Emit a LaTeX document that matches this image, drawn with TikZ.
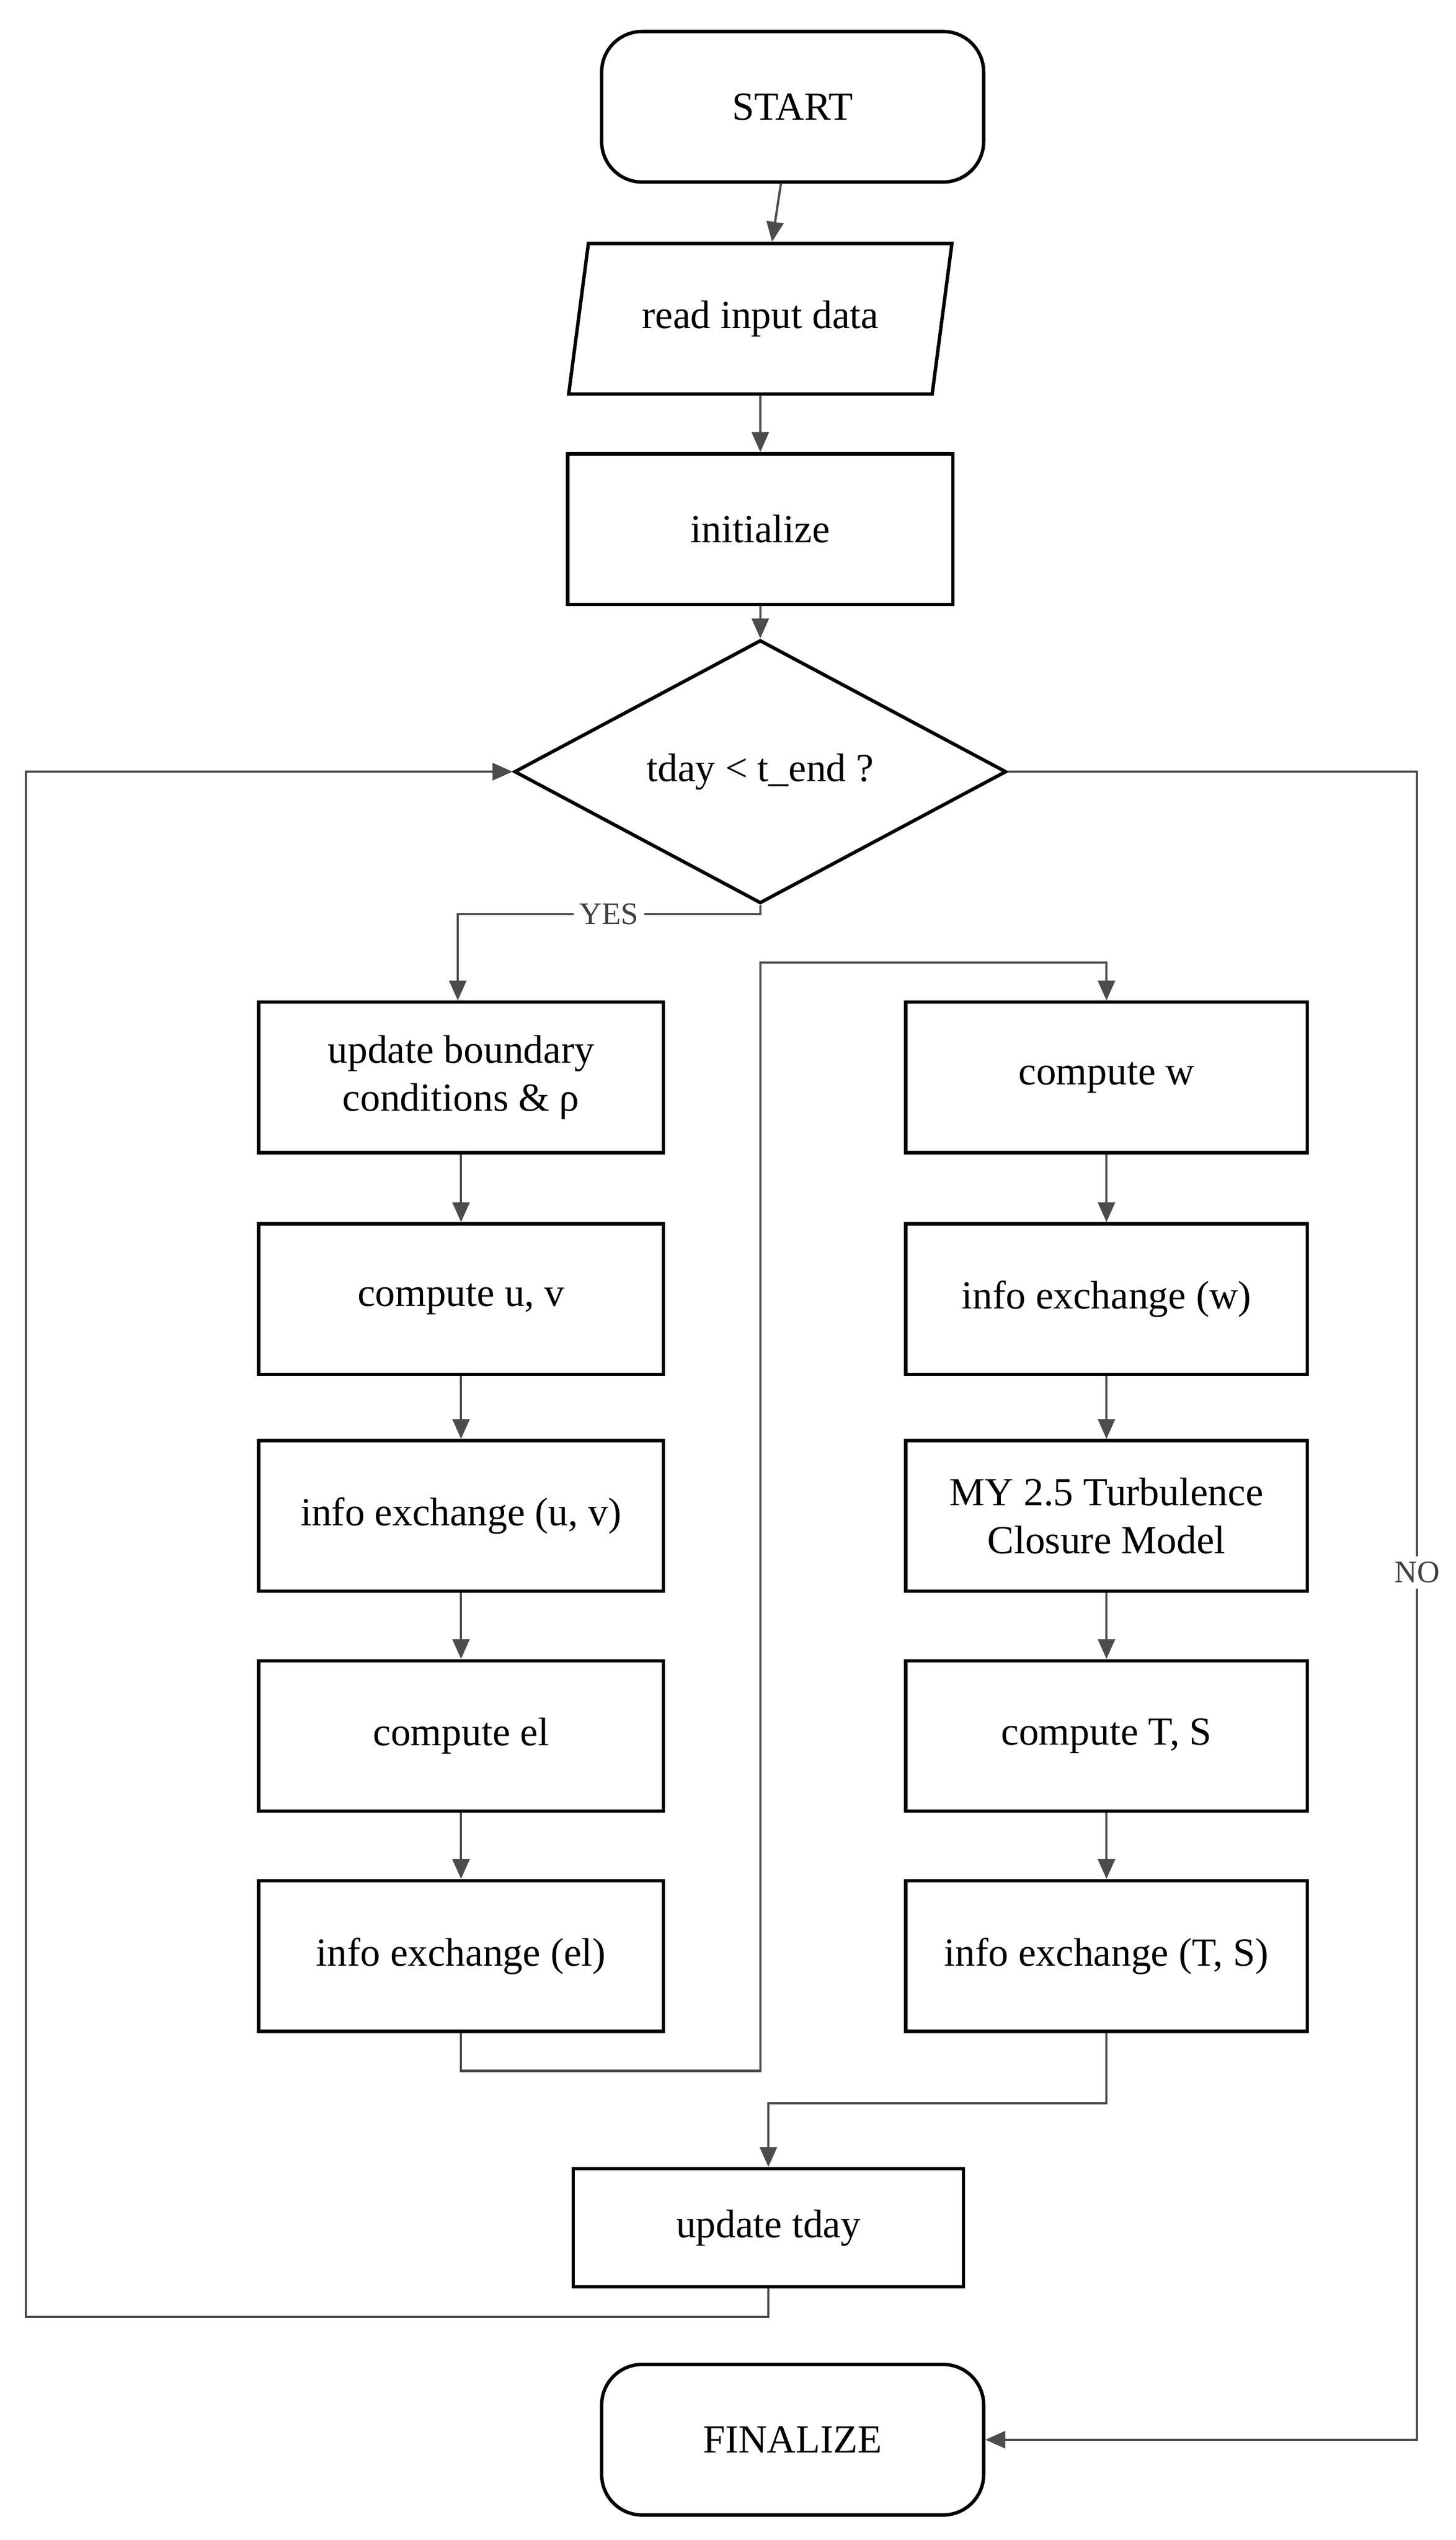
\documentclass[tikz,border=0pt]{standalone}
\usepackage{fontspec}
\setmainfont{Liberation Serif}
\usetikzlibrary{shapes.geometric,arrows.meta}
\begin{document}
\begin{tikzpicture}[x=0.01cm,y=-0.01cm,
    font=\fontsize{7}{8.5}\selectfont,
    box/.style={draw, line width=0.6pt, minimum width=2.5cm, minimum height=0.93cm, align=center, inner sep=1pt},
    term/.style={box, rounded corners=0.25cm, minimum width=2.36cm},
    io/.style={draw, line width=0.6pt, trapezium, trapezium left angle=78, trapezium right angle=102,
      trapezium stretches=true, minimum width=2.38cm, minimum height=0.93cm},
    dec/.style={draw, line width=0.6pt, diamond, minimum width=3.04cm, minimum height=1.27cm, inner sep=0pt},
    flow/.style={draw=black!70, line width=0.4pt, -{Triangle[length=3.5pt,width=3pt]}},
    lbl/.style={fill=white, inner sep=1pt, font=\fontsize{5.5}{6}\selectfont, text=black!75}]
  \useasboundingbox (0,0) rectangle (900,1570);

  % --- main chain ---
  \node[term] (start) at (490,66) {START};
  \node[io] (read) at (470,197) {read input data};
  \node[box, minimum width=2.38cm] (init) at (470,327) {initialize};
  \node[dec] (test) at (470,477) {tday < t\_end ?};

  % --- left column ---
  \node[box] (bc) at (285,666) {update boundary\\conditions \& ρ};
  \node[box] (uv) at (285,803) {compute u, v};
  \node[box] (xuv) at (285,937) {info exchange (u, v)};
  \node[box] (el) at (285,1073) {compute el};
  \node[box] (xel) at (285,1209) {info exchange (el)};

  % --- right column ---
  \node[box, minimum width=2.48cm] (w) at (684,666) {compute w};
  \node[box, minimum width=2.48cm] (xw) at (684,803) {info exchange (w)};
  \node[box, minimum width=2.48cm] (my) at (684,937) {MY 2.5 Turbulence\\Closure Model};
  \node[box, minimum width=2.48cm] (ts) at (684,1073) {compute T, S};
  \node[box, minimum width=2.48cm] (xts) at (684,1209) {info exchange (T, S)};

  \node[box, minimum width=2.41cm, minimum height=0.73cm] (upd) at (475,1377) {update tday};
  \node[term] (fin) at (490,1508) {FINALIZE};

  % --- connectors ---
  \draw[flow] (start) -- (read);
  \draw[flow] (read) -- (init);
  \draw[flow] (init) -- (test);
  \draw[flow] (test.south) -- (470,565) -- node[lbl]{YES} (283,565) -- (bc.north -| 283,0);
  \draw[flow] (bc) -- (uv);
  \draw[flow] (uv) -- (xuv);
  \draw[flow] (xuv) -- (el);
  \draw[flow] (el) -- (xel);
  \draw[flow] (xel.south) -- (285,1280) -- (470,1280) -- (470,595) -- (684,595) -- (w.north);
  \draw[flow] (w) -- (xw);
  \draw[flow] (xw) -- (my);
  \draw[flow] (my) -- (ts);
  \draw[flow] (ts) -- (xts);
  \draw[flow] (xts.south) -- (684,1300) -- (475,1300) -- (upd.north);
  \draw[flow] (upd.south) -- (475,1432) -- (16,1432) -- (16,477) -- (test.west);
  \draw[flow] (test.east) -- (876,477) -- node[lbl, pos=0.48]{NO} (876,1508) -- (fin.east);
\end{tikzpicture}
\end{document}
